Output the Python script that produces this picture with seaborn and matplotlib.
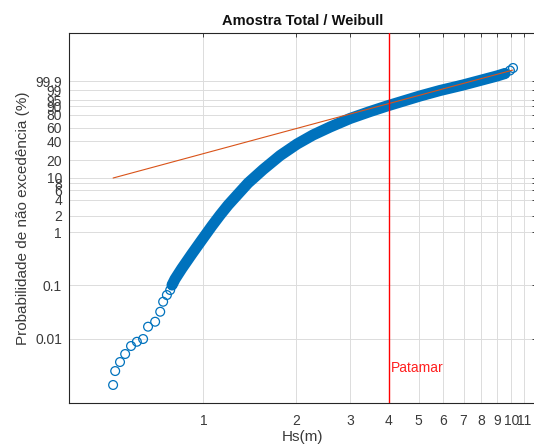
"""
Amostra Total / Weibull - probability plot of Hs with Weibull fit line
"""

import numpy as np
import pandas as pd
import matplotlib
matplotlib.use('Agg')
import matplotlib.pyplot as plt
import seaborn as sns

# Data (Hs in m, non-exceedance probability in %)
# sparse circles at the low end
hs_low = [0.509, 0.517, 0.536, 0.557, 0.582, 0.608, 0.637, 0.661, 0.697, 0.724, 0.740,
          0.761, 0.780, 0.791]
pct_low = [0.00134, 0.00245, 0.00362, 0.00512, 0.00724, 0.0087, 0.0098, 0.0167,
           0.0207, 0.0319, 0.0492, 0.0657, 0.0816, 0.1014]

# dense part of the sample (thousands of overlapping circles)
hs_band = [0.791, 0.809, 0.851, 0.917, 0.988, 1.065, 1.133, 1.203, 1.296, 1.397, 1.563,
           1.775, 2.015, 2.271, 2.579, 2.995, 3.477, 3.949, 5.053, 5.868, 6.970, 7.913,
           8.986, 9.54]
pct_band = [0.1014, 0.1314, 0.207, 0.387, 0.709, 1.296, 2.076, 3.18, 5.07, 8.05, 13.97,
            24.1, 36.5, 48.9, 61.2, 74.6, 84.3, 90.5, 97.34, 98.995, 99.708, 99.917,
            99.982, 99.99323]

# last few circles in the upper tail
hs_tail = [9.54, 9.90, 10.13]
pct_tail = [99.99323, 99.99821, 99.99949]

# Weibull fit line end points
fit_hs = [0.509, 10.13]
fit_pct = [9.89, 99.99859]

# axis ticks
y_ticks = [0.01, 0.1, 1, 2, 4, 6, 8, 10, 20, 40, 60, 80, 90, 95, 99, 99.9]
y_labels = ['0.01', '0.1', '1', '2', '4', '6', '8', '10', '20', '40', '60', '80',
            '90', '95', '99', '99.9']
x_ticks = [1, 2, 3, 4, 5, 6, 7, 8, 9, 10, 11]
patamar = 4


def wbl(p):
    # Weibull probability paper: ln(-ln(1-p))
    p = np.asarray(p, dtype=float) / 100.0
    return np.log(-np.log1p(-p))


blue = '#0072BD'
orange = '#D95319'
dark = '#262626'

sns.set_style('white')
plt.rcParams['font.family'] = ['Liberation Sans', 'DejaVu Sans']

fig = plt.figure(figsize=(5.34, 4.47), dpi=100)
ax = fig.add_axes([69 / 534, 1 - 403 / 447, (536 - 69) / 534, (403 - 33) / 447])

band = pd.DataFrame({'hs': hs_band, 'w': wbl(pct_band)})
sns.lineplot(data=band, x='hs', y='w', ax=ax, color=blue, lw=8, sort=False,
             estimator=None, solid_capstyle='round', solid_joinstyle='round')

pts = pd.DataFrame({'hs': hs_low + hs_tail, 'w': wbl(pct_low + pct_tail)})
ax.scatter(pts['hs'], pts['w'], s=40, facecolors='none', edgecolors=blue,
           linewidths=0.9, zorder=3)

ax.plot(fit_hs, wbl(fit_pct), color=orange, lw=0.8, zorder=4)

ax.axvline(patamar, color='#FF0000', lw=1.0, zorder=5)
ax.text(4.05, wbl(0.00279), 'Patamar', color='#FF2020', fontsize=10, va='center')

ax.set_xscale('log')
ax.set_xlim(0.366, 12.03)
ax.set_ylim(-12.0, 4.015)
ax.set_xticks(x_ticks)
ax.set_xticklabels([str(t) for t in x_ticks])
ax.xaxis.set_minor_locator(matplotlib.ticker.NullLocator())
ax.set_yticks(wbl(y_ticks))
ax.set_yticklabels(y_labels)

ax.grid(True, color='#dcdcdc', lw=0.7)
ax.set_axisbelow(True)
for s in ax.spines.values():
    s.set_color(dark)
    s.set_linewidth(0.8)
ax.tick_params(direction='in', top=True, right=True, length=3, width=0.6,
               colors=dark, labelcolor='#3a3a3a', labelsize=10)
ax.tick_params(axis='x', pad=8)
ax.tick_params(axis='y', pad=5)

ax.set_title('Amostra Total / Weibull', fontsize=10.5, fontweight='bold',
             color='#111111', pad=6)
ax.set_xlabel('Hs(m)', fontsize=11, color='#3a3a3a', labelpad=1)
ax.set_ylabel('Probabilidade de não excedência (%)', fontsize=11, color='#3a3a3a',
              labelpad=4)

plt.savefig('out.png', dpi=100)
